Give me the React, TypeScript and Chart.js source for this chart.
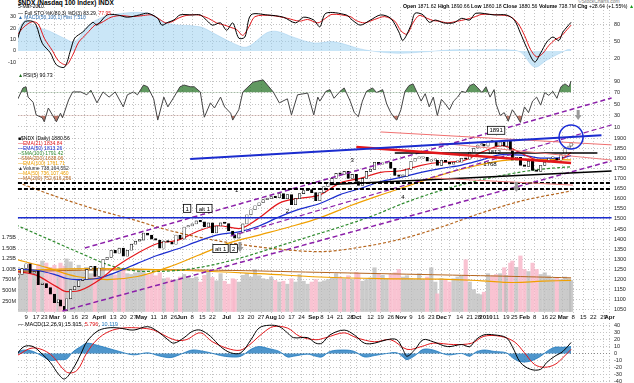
import React, { useEffect, useRef } from 'react';
import { Chart, registerables } from 'chart.js';
Chart.register(...registerables);

const FONT = '"Liberation Sans", Arial, Helvetica, sans-serif';
const GRID = '#c4c4c4';
const RED = '#e3171b';
const BLUE = '#1b2ccf';
const GREEN = '#2e8b2e';
const BROWN = '#b5651d';
const ORANGE = '#f0a000';
const PURPLE = '#8b1fa9';

// x = trading-day index (0 = 2 Feb 2009)
const X_MIN = 1.03;
const X_MAX = 294.2;
const TICK_IDX = [5,10,14,19,24,29,34,41,48,53,58,62,68,73,78,82,87,92,97,104,111,116,121,126,131,136,141,147,151,155,160,165,168,175,180,185,190,195,200,205,210,214,219,224,228,232,237,242,246,251,256,261,265,270,275,280,285,290,293];
const TICK_LABELS = ['9','17','23','Mar','9','16','23','April','13','20','27','May','11','18','26','Jun','8','15','22','Jul','13','20','27','Aug','10','17','24','Sep','8','14','21','28','Oct','12','19','26','Nov','9','16','23','Dec','7','14','21','28','2010','11','19','25','Feb','8','16','22','Mar','8','15','22','29','Apr'];

// price (closes every ~2 trading days)
const FIRST_OPEN = 1207;
const CANDLE_IDX = [1,3,5,7,9,11,13,15,17,19,21,22,24,25,27,29,31,33,35,37,39,41,43,45,47,49,51,53,55,57,59,61,63,65,67,69,71,73,75,77,79,81,83,85,87,89,91,93,95,97,99,101,103,105,107,108,110,112,114,116,118,120,122,124,126,128,130,132,134,136,138,140,142,144,146,148,150,152,154,156,158,160,162,164,166,168,169,171,173,175,177,179,181,183,185,187,189,191,193,195,197,199,201,203,205,207,208,210,212,214,216,218,220,222,224,226,228,230,231,233,235,237,239,241,242,244,245,247,249,251,253,255,257,259,261,263,265,267,269,271,273,274];
const CLOSES = [1225,1255,1278,1232,1240,1175,1180,1160,1128,1085,1100,1068,1046,1105,1150,1165,1195,1200,1250,1265,1215,1257,1300,1310,1345,1330,1355,1315,1345,1375,1390,1395,1430,1420,1400,1395,1355,1390,1385,1375,1420,1400,1460,1465,1475,1490,1485,1460,1480,1430,1465,1480,1477,1440,1420,1405,1430,1475,1520,1545,1565,1580,1595,1600,1610,1605,1625,1600,1620,1570,1600,1625,1640,1645,1630,1590,1630,1660,1680,1700,1725,1720,1735,1700,1720,1685,1665,1700,1735,1745,1780,1770,1775,1780,1750,1715,1710,1710,1745,1785,1800,1800,1805,1785,1790,1790,1765,1790,1780,1770,1780,1780,1800,1795,1830,1850,1865,1870,1860,1885,1880,1860,1880,1860,1890,1840,1790,1805,1765,1760,1785,1740,1735,1765,1780,1800,1800,1790,1820,1850,1860,1876];
const VOLUME_M = [1050,980,1100,1150,950,1120,1200,1150,1050,1100,1000,1150,1080,1250,1180,1020,1100,950,1050,900,880,980,1000,850,900,870,950,1020,900,880,920,1000,950,870,900,850,920,780,800,750,760,820,880,830,790,820,700,860,950,810,730,900,720,650,780,760,700,860,900,820,1000,850,780,760,820,740,700,720,650,780,700,880,720,650,700,760,700,730,760,800,900,820,780,850,760,930,900,720,760,800,1040,900,860,780,880,920,1000,820,850,780,760,900,760,820,1040,700,420,780,760,700,780,820,860,1230,700,520,420,400,460,900,850,880,900,1040,860,1150,1200,1050,1320,1000,950,1150,1000,880,920,850,780,800,760,820,780,740];

// moving averages
const MA_IDX = [0,10,20,25,30,40,50,60,70,80,90,100,110,120,130,140,150,160,170,180,190,200,210,220,230,240,250,260,270,274];
const EMA21 = [1240,1222,1165,1140,1142,1190,1268,1330,1378,1395,1440,1466,1452,1505,1578,1602,1618,1678,1700,1730,1738,1765,1780,1786,1830,1862,1822,1785,1800,1828];
const EMA50 = [1250,1246,1222,1205,1200,1205,1238,1280,1320,1352,1390,1422,1436,1465,1510,1548,1576,1620,1650,1685,1705,1730,1750,1766,1792,1818,1815,1800,1803,1813];
const SMA100_IDX = [0,15,30,45,60,75,90,105,120,135,150,165,180,195,210,225,240,255,274];
const SMA100 = [1300,1260,1215,1200,1215,1260,1320,1380,1420,1460,1505,1565,1618,1668,1718,1758,1788,1794,1792];
const EMA100_IDX = [0,16,32,48,64,80,96,112,128,144,160,176,192,208,224,240,256,274];
const EMA100 = [1470,1400,1330,1265,1240,1245,1270,1310,1360,1410,1460,1515,1580,1635,1680,1715,1742,1758];
const SMA200_IDX = [1,20,40,60,73,90,110,130,150,170,190,210,230,250,274];
const SMA200 = [1680,1610,1545,1490,1450,1410,1375,1350,1338,1360,1400,1460,1530,1590,1638];
const VMA50_IDX = [0,40,80,120,150,180,210,230,245,260,274];
const VMA50 = [980,1020,980,900,820,780,770,730,690,720,740];
const VMA200_IDX = [0,50,100,150,200,240,274];
const VMA200 = [950,990,980,930,880,840,800];

// trendline annotations [idx, price]
const TRENDLINES = [
  { a: [86, 1796], b: [289, 1914], color: BLUE, w: 2, dash: [] },
  { a: [168, 1855], b: [274, 1776], color: RED, w: 2.5, dash: [] },
  { a: [180, 1930], b: [294, 1866], color: '#f07070', w: 1, dash: [] },
  { a: [209, 1875], b: [294, 1791], color: '#f08080', w: 1, dash: [] },
  { a: [206, 1702], b: [275, 1667], color: '#f08080', w: 1, dash: [] },
  { a: [187, 1826], b: [287, 1826], color: '#000', w: 1.5, dash: [] },
  { a: [155, 1670], b: [294, 1737], color: '#000', w: 1.5, dash: [] },
  { a: [1, 1677], b: [294, 1677], color: '#000', w: 2, dash: [4, 2] },
  { a: [1, 1648], b: [294, 1648], color: '#000', w: 2, dash: [4, 2] },
  { a: [1, 1505], b: [294, 1505], color: BLUE, w: 1.5, dash: [] },
  { a: [23, 1044], b: [294, 1787], color: PURPLE, w: 1.5, dash: [5, 3] },
  { a: [34, 1356], b: [294, 2098], color: PURPLE, w: 1.5, dash: [5, 3] },
  { a: [106, 1415], b: [294, 1965], color: PURPLE, w: 1.2, dash: [5, 3] },
];
const PRICE_NOTES = [
  { text: '1891', idx: 237, price: 1938, box: true },
  { text: '1812', idx: 236, price: 1831, box: false },
  { text: '1768', idx: 234, price: 1774, box: false },
  { text: '1', idx: 109, price: 1645, box: false },
  { text: '2', idx: 134, price: 1540, box: false },
  { text: '3', idx: 166, price: 1790, box: false },
  { text: '4', idx: 191, price: 1608, box: false },
  { text: '1', idx: 84.5, price: 1552, box: true },
  { text: 'alt 1', idx: 93, price: 1552, box: true },
  { text: 'alt 1', idx: 101, price: 1354, box: true },
  { text: '2', idx: 107.5, price: 1354, box: true },
];
const ARROW_MARKS = [[110.6, 1346], [247, 1643], [277.5, 1999]];
const CIRCLE_MARKS = [[274, 1905]];

// full stochastics
const STOCH_K_IDX = [0.5,4,8,10,13,17,20,24,27,29,33,38,40,45,50,55,61,65,70,72,75,78,81,87,91,94,97,101,104,107,110,113,116,124,132,138,142,147,150,153,163,166,170,175,180,185,189,191,195,197,201,204,207,211,216,220,224,227,236,242,246,249,252,256,259,262,265,268,270,274];
const STOCH_K = [51,83,85,78,46,29,8,4,34,55,66,83,78,96,96,92,96,99,90,78,83,87,96,96,96,87,78,82,69,82,55,57,96,96,92,82,92,87,75,99,96,87,78,87,96,90,66,51,78,99,96,83,87,82,82,90,87,99,96,96,87,64,39,13,29,48,57,51,66,83];
const STOCH_D_IDX = [0.5,4,8,11,14,18,21,25,28,31,35,39,42,47,52,57,63,67,71,74,77,80,84,90,95,99,103,106,109,112,115,118,126,134,140,144,149,152,156,165,168,172,177,182,187,190,193,196,199,203,206,209,213,218,222,226,230,238,244,248,251,254,257,260,263,266,269,272,274];
const STOCH_D = [60,75,84,80,55,33,15,8,25,48,63,78,82,92,95,93,95,96,88,82,84,90,95,96,90,82,78,74,70,60,75,93,95,90,85,88,82,88,97,93,86,82,88,93,85,68,62,82,95,90,86,85,82,85,88,92,97,96,93,80,60,35,22,28,42,52,58,70,78];
const OSC_IDX = [0.5,5,9,17,25,29,37,46,65,75,91,97,107,114,124,129,137,147,157,172,188,200,216,232,242,249,256,262,272,274];
const OSC_VAL = [17,27,22,17,10,8,24,31,33,24,21,16,7,3.5,16,17,12,7,8,1,-2,-1,1,1,1,-1,-14,-8,1,1];

// RSI(5)
const RSI_IDX = [1,3.5,5,6,8.5,10,13,14,16,18,20,22,23,26,28,32,35,37,40,43,46,49,53,55,58,60,63,65,68,70,73,75,78,81,83,86,88,91,93,96,98,101,103,106,107,110,112,117,122,127,130,134,136,139,144,147,149,150,153,155,157,160,162,165,167,169,171,173,176,178,181,183,185,187,188,190,192,194,196,198,200,202,204,206,208,210,212,214,216,218,220,222,224,226,228,230,232,234,236,237,239,241,243,245,247,249,251,253,255,257,259,261,263,265,267,269,271,273,274];
const RSI_VAL = [59,78,80,62,53,31,26,19,43,31,19,34,26,57,71,71,66,74,52,71,62,71,45,66,71,66,83,80,59,22,62,45,62,80,83,80,80,71,27,52,43,62,45,34,22,40,71,88,92,71,52,59,31,66,69,31,62,55,72,75,60,72,78,55,35,28,55,72,78,70,75,50,35,25,22,40,72,82,85,70,55,68,45,62,30,58,50,40,55,62,72,70,82,85,78,70,80,62,75,50,30,35,20,40,30,18,45,35,55,62,48,70,65,72,60,80,85,80,90];

// MACD(12,26,9)
const MACD_IDX = [0.5,4,8.5,13,17,21,24,28,32,35,40,45,51,58,65,70,75,78,83,87,91,96,101,106,111,116,120,125,130,134,137,144,148,151,155,162,167,172,177,183,188,191,193,197,201,206,213,220,224,227,231,236,242,245,249,254,259,262,266,270,274];
const MACD_VAL = [-1,10,10,-1,-13,-30,-37,-23,-1,17,32,37,37,34,39,32,20,15,23,32,34,25,10,1,1,20,37,41,39,30,23,23,15,15,27,34,27,15,15,20,20,6,-4,6,20,17,10,13,10,20,27,27,23,10,-13,-23,-23,-13,-4,3,16];
const SIG_IDX = [0.5,8.5,17,25,30,35,40,46,53,61,68,78,84,91,97,106,112,122,127,134,140,148,153,162,168,177,185,193,200,206,216,225,231,239,246,251,256,261,266,270,274];
const SIG_VAL = [-3,8,-1,-27,-25,1,20,32,37,37,34,20,20,30,17,6,6,30,39,37,25,20,23,30,23,17,20,6,10,15,13,15,25,25,17,1,-16,-20,-16,-6,6];
const HIST_IDX = [0.5,4,8.5,13,17,21,25,28,32,35,40,45,51,58,65,70,75,78,83,87,91,96,101,106,111,116,120,125,130,134,137,144,148,151,155,162,167,172,177,183,188,191,193,197,201,206,213,220,224,227,231,236,242,245,249,254,259,262,266,270,274];
const HIST_VAL = [2,5,3,-4,-10,-9,-8,2,10,15,12,8,3,-2,1,-3,-6,-5,1,5,4,1,-3,-5,-4,6,10,7,3,-5,-4,-1,-4,-5,3,5,3,-5,-3,0,1,-5,-9,-3,6,5,-2,0,-4,2,5,3,1,-6,-12,-11,-4,3,9,9,10];

const PRICE_TICKS = [1050,1100,1150,1200,1250,1300,1350,1400,1450,1500,1550,1600,1650,1700,1750,1800,1850,1900];
const VOL_TICKS = [250,500,750,1000,1250,1500,1750];

const PRICE_LEGEND = [
  { mark: '■', text: '$NDX (Daily) 1880.56', color: '#000' },
  { mark: '—', text: 'EMA(21) 1834.84', color: RED },
  { mark: '—', text: 'EMA(50) 1813.26', color: BLUE },
  { mark: '--', text: 'SMA(100) 1791.42', color: GREEN },
  { mark: '--', text: 'SMA(200) 1638.06', color: BROWN },
  { mark: '—', text: 'EMA(100) 1761.71', color: ORANGE },
  { mark: '▲', text: 'Volume 738,164,552', color: '#333' },
  { mark: '—', text: 'MA(50) 736,107,460', color: ORANGE },
  { mark: '—', text: 'MA(200) 752,616,256', color: BROWN },
];

const pts = (xs: number[], ys: number[]) => xs.map((x, i) => ({ x, y: ys[i] }));
const isMonth = (s: string) => isNaN(Number(s)) || s === '2010';

function xAxis(show: boolean) {
  return {
    type: 'linear', min: X_MIN, max: X_MAX, offset: false,
    afterBuildTicks: (s: any) => { s.ticks = TICK_IDX.map((v) => ({ value: v })); },
    afterFit: (s: any) => { s.height = show ? 10 : 0; s.paddingLeft = 0; s.paddingRight = 0; },
    ticks: {
      display: show, autoSkip: false, maxRotation: 0, minRotation: 0, padding: 1, color: '#111',
      font: (c: any) => ({ family: FONT, size: 6, weight: isMonth(TICK_LABELS[c.index] || '') ? 'bold' : 'normal' }),
      callback: (_v: any, i: number) => TICK_LABELS[i],
    },
    grid: { color: GRID, drawTicks: false, lineWidth: 1, offset: false },
    border: { display: false, dash: [1, 2] },
  };
}

function yAxis(o: any) {
  return {
    type: 'linear', position: o.pos, min: o.min, max: o.max,
    afterBuildTicks: (s: any) => { s.ticks = o.ticks.map((v: number) => ({ value: v })); },
    afterFit: (s: any) => { s.width = o.width; s.paddingTop = 0; s.paddingBottom = 0; },
    ticks: {
      autoSkip: false, padding: 2, color: '#222', font: { family: FONT, size: 5.5 },
      callback: (v: any) => (o.fmt ? o.fmt(Number(v)) : String(v)),
    },
    grid: {
      display: o.grid !== false, drawTicks: false,
      color: (c: any) => (o.zeroDark && c.tick && c.tick.value === 0 ? '#8a8a8a' : GRID),
    },
    border: { display: false, dash: [1, 2] },
  };
}

const baseOpts = (padLeft: number, padTop: number) => ({
  responsive: false, animation: false, devicePixelRatio: 1, events: [],
  layout: { padding: { left: padLeft, right: 0, top: padTop, bottom: 0 }, autoPadding: false },
  plugins: { legend: { display: false }, tooltip: { enabled: false } },
});

const line = (data: any[], color: string, w: number, extra: any = {}) => ({
  type: 'line', data, borderColor: color, borderWidth: w, pointRadius: 0, fill: false, ...extra,
});

const notesPlugin = {
  id: 'notes',
  afterDatasetsDraw(chart: any) {
    const { ctx, scales } = chart;
    const x = scales.x, y = scales.y;
    ctx.save();
    CIRCLE_MARKS.forEach(([i, p]) => {
      ctx.beginPath();
      ctx.arc(x.getPixelForValue(i), y.getPixelForValue(p), 12, 0, Math.PI * 2);
      ctx.strokeStyle = '#1a2bd6'; ctx.lineWidth = 1.5; ctx.stroke();
    });
    ARROW_MARKS.forEach(([i, p]) => {
      const px = x.getPixelForValue(i), py = y.getPixelForValue(p);
      ctx.fillStyle = '#9a9a9a';
      ctx.fillRect(px - 1.5, py - 8, 3, 5);
      ctx.beginPath(); ctx.moveTo(px - 3.5, py - 3); ctx.lineTo(px + 3.5, py - 3); ctx.lineTo(px, py + 2); ctx.closePath(); ctx.fill();
    });
    ctx.font = `6px ${FONT}`; ctx.textAlign = 'center'; ctx.textBaseline = 'middle';
    PRICE_NOTES.forEach((n) => {
      const px = x.getPixelForValue(n.idx), py = y.getPixelForValue(n.price);
      if (n.box) {
        const w = ctx.measureText(n.text).width + 4;
        ctx.fillStyle = '#fff'; ctx.fillRect(px - w / 2, py - 4, w, 8);
        ctx.strokeStyle = '#000'; ctx.lineWidth = 0.8; ctx.strokeRect(px - w / 2, py - 4, w, 8);
      }
      ctx.fillStyle = '#000'; ctx.fillText(n.text, px, py + 0.5);
    });
    ctx.restore();
  },
};

function stochConfig(): any {
  return {
    type: 'line',
    data: {
      datasets: [
        line(pts(OSC_IDX, OSC_VAL), 'rgba(120,185,230,0.6)', 0.5, { yAxisID: 'yl', fill: 'origin', backgroundColor: 'rgba(150,205,240,0.5)', tension: 0.35, order: 5 }),
        line(pts(STOCH_D_IDX, STOCH_D), RED, 1, { yAxisID: 'y', tension: 0.3, order: 2 }),
        line(pts(STOCH_K_IDX, STOCH_K), '#000', 1, { yAxisID: 'y', tension: 0.3, order: 1 }),
      ],
    },
    options: {
      ...baseOpts(0, 0),
      scales: {
        x: xAxis(false),
        y: yAxis({ pos: 'right', min: 0.6, max: 110, ticks: [20, 50, 80], width: 22 }),
        yl: yAxis({ pos: 'left', min: -15.7, max: 38.3, ticks: [-10, 0, 10, 20, 30], width: 18, grid: false }),
      },
    },
  };
}

function rsiConfig(): any {
  const d = pts(RSI_IDX, RSI_VAL);
  return {
    type: 'line',
    data: {
      datasets: [
        line(d, '#444', 1, { fill: { target: { value: 70 }, above: 'rgba(30,110,30,0.7)', below: 'rgba(0,0,0,0)' }, order: 1 }),
        line(d, 'rgba(0,0,0,0)', 0, { fill: { target: { value: 30 }, above: 'rgba(0,0,0,0)', below: 'rgba(160,60,40,0.7)' }, order: 2 }),
      ],
    },
    options: {
      ...baseOpts(18, 0),
      scales: {
        x: xAxis(false),
        y: yAxis({ pos: 'right', min: 1.3, max: 110.9, ticks: [10, 30, 50, 70, 90], width: 22 }),
      },
    },
  };
}

function priceConfig(): any {
  const prev = CLOSES.map((c, i) => (i === 0 ? FIRST_OPEN : CLOSES[i - 1]));
  const up = CLOSES.map((c, i) => c >= prev[i]);
  const candles = CANDLE_IDX.map((x, i) => ({ x, y: [prev[i], CLOSES[i]] }));
  const trend = TRENDLINES.map((t) =>
    line([{ x: t.a[0], y: t.a[1] }, { x: t.b[0], y: t.b[1] }], t.color, t.w, { borderDash: t.dash, clip: false, order: -1, yAxisID: 'y' }));
  return {
    type: 'bar',
    data: {
      datasets: [
        { type: 'bar', yAxisID: 'yv', data: pts(CANDLE_IDX, VOLUME_M), backgroundColor: up.map((u) => (u ? 'rgba(185,185,185,0.75)' : 'rgba(248,185,202,0.85)')), barThickness: 3.5, grouped: false, order: 30 },
        line(pts(VMA200_IDX, VMA200), BROWN, 1, { yAxisID: 'yv', tension: 0.4, order: 26 }),
        line(pts(VMA50_IDX, VMA50), ORANGE, 1.2, { yAxisID: 'yv', tension: 0.4, order: 25 }),
        line(pts(SMA200_IDX, SMA200), BROWN, 1.2, { yAxisID: 'y', borderDash: [3, 2], cubicInterpolationMode: 'monotone', order: 9 }),
        line(pts(EMA100_IDX, EMA100), GREEN, 1.2, { yAxisID: 'y', borderDash: [3, 2], cubicInterpolationMode: 'monotone', order: 8 }),
        line(pts(SMA100_IDX, SMA100), ORANGE, 1.2, { yAxisID: 'y', cubicInterpolationMode: 'monotone', order: 7 }),
        line(pts(MA_IDX, EMA50), BLUE, 1.2, { yAxisID: 'y', cubicInterpolationMode: 'monotone', order: 6 }),
        line(pts(MA_IDX, EMA21), RED, 1.2, { yAxisID: 'y', cubicInterpolationMode: 'monotone', order: 5 }),
        { type: 'bar', yAxisID: 'y', data: candles, backgroundColor: up.map((u) => (u ? '#ffffff' : '#000000')), borderColor: '#000', borderWidth: 0.6, borderSkipped: false, barThickness: 2.5, minBarLength: 1.5, grouped: false, order: 0 },
        ...trend,
      ],
    },
    options: {
      ...baseOpts(0, 63),
      scales: {
        x: xAxis(true),
        y: yAxis({ pos: 'right', min: 1034.5, max: 1929.7, ticks: PRICE_TICKS, width: 22 }),
        yv: yAxis({ pos: 'left', min: -35, max: 4264, ticks: VOL_TICKS, width: 18, grid: false, fmt: (v: number) => (v < 1000 ? `${v}M` : `${(v / 1000).toFixed(2)}B`) }),
      },
    },
    plugins: [notesPlugin],
  };
}

function macdConfig(): any {
  return {
    type: 'line',
    data: {
      datasets: [
        line(pts(HIST_IDX, HIST_VAL), '#1e78be', 0.8, { fill: 'origin', backgroundColor: 'rgba(30,120,190,0.78)', tension: 0.35, order: 5 }),
        line(pts(SIG_IDX, SIG_VAL), RED, 1, { tension: 0.35, order: 2 }),
        line(pts(MACD_IDX, MACD_VAL), '#000', 1, { tension: 0.35, order: 1 }),
      ],
    },
    options: {
      ...baseOpts(18, 0),
      scales: {
        x: xAxis(false),
        y: yAxis({ pos: 'right', min: -42.9, max: 44.3, ticks: [-40, -30, -20, -10, 0, 10, 20, 30, 40], width: 22, zeroDark: true }),
      },
    },
  };
}

const txt = (top: number, left: number, size: number, extra: any = {}) => ({
  position: 'absolute', top, left, fontSize: size, lineHeight: 1, whiteSpace: 'nowrap', fontFamily: FONT, color: '#000', pointerEvents: 'none', zIndex: 5, ...extra,
});

export default function App() {
  const c1 = useRef<HTMLCanvasElement>(null);
  const c2 = useRef<HTMLCanvasElement>(null);
  const c3 = useRef<HTMLCanvasElement>(null);
  const c4 = useRef<HTMLCanvasElement>(null);
  useEffect(() => {
    const charts = [
      new Chart(c1.current as HTMLCanvasElement, stochConfig()),
      new Chart(c2.current as HTMLCanvasElement, rsiConfig()),
      new Chart(c3.current as HTMLCanvasElement, priceConfig()),
      new Chart(c4.current as HTMLCanvasElement, macdConfig()),
    ];
    return () => charts.forEach((c) => c.destroy());
  }, []);
  const cv = (top: number, h: number): any => ({ position: 'absolute', left: 0, top, width: 634, height: h });
  return (
    <div style={{ position: 'fixed', left: 0, top: 0, width: 634, height: 383, background: '#fff', overflow: 'hidden' }}>
      <canvas ref={c1} width={634} height={62} style={cv(7, 62)} />
      <canvas ref={c2} width={634} height={63} style={cv(69, 63)} />
      <canvas ref={c3} width={634} height={254} style={cv(69, 254)} />
      <canvas ref={c4} width={634} height={60} style={cv(323, 60)} />

      <div style={txt(-0.5, 18, 6.5, { fontWeight: 'bold' }) as any}>$NDX (Nasdaq 100 Index) INDX</div>
      <div style={txt(3.5, 18, 5) as any}>5-Mar-2010</div>
      <div style={txt(10.5, 18, 5) as any}>— Full STO %K(80,3) %D(3) 83.29, <span style={{ color: RED }}>77.95</span></div>
      <div style={txt(14.5, 18, 5, { color: '#2a6db0' }) as any}>▲ MACD(50,100,1) Hist 7.510</div>
      <div style={txt(-1, 578, 5, { color: '#777' }) as any}>©StockCharts.com</div>
      <div style={txt(3.5, 403, 5.2) as any}>
        <b>Open</b> 1871.62 <b>High</b> 1890.66 <b>Low</b> 1860.18 <b>Close</b> 1880.56 <b>Volume</b> 738.7M <b>Chg</b> +28.64 (+1.55%) <span style={{ color: '#1a9a1a' }}>▲</span>
      </div>
      <div style={txt(72.5, 18, 5.2) as any}><span style={{ color: '#1e6e1e' }}>▲</span>RSI(5) 90.73</div>
      {PRICE_LEGEND.map((l, i) => (
        <div key={i} style={txt(135.5 + i * 5, 18, 5, { color: l.color }) as any}>{l.mark}{l.text}</div>
      ))}
      <div style={txt(322, 18, 5.5) as any}>— MACD(12,26,9) 15.915, <span style={{ color: RED }}>5.796</span>, <span style={{ color: '#1e78be' }}>10.119</span></div>
    </div>
  );
}
